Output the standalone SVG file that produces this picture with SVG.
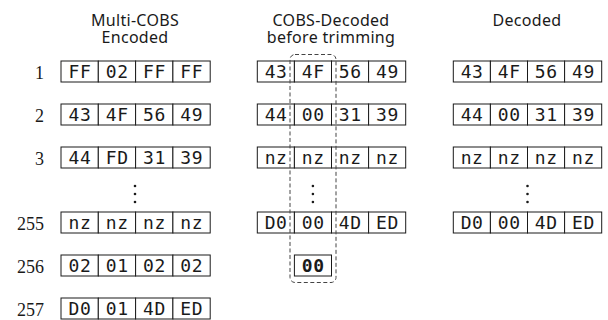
<svg xmlns="http://www.w3.org/2000/svg" width="608" height="320" viewBox="0 0 608 320">
  <style>
    .cell { fill: #ffffff; stroke: #1a1a1a; stroke-width: 1; }
    .byte { font-family: "DejaVu Sans Mono", monospace; font-size: 18px; letter-spacing: 0.6px; fill: #1a1a1a; text-anchor: middle; }
    .bold { font-weight: bold; }
    .title { font-family: "Noto Sans", "Open Sans", sans-serif; font-size: 16px; letter-spacing: 0.3px; fill: #1a1a1a; text-anchor: middle; }
    .idx { font-family: "Liberation Serif", serif; font-size: 18px; fill: #1a1a1a; text-anchor: end; }
    .dot { fill: #1a1a1a; }
    .frame { fill: none; stroke: #444444; stroke-width: 1; stroke-dasharray: 4 2.5; }
  </style>

  <!-- column headings -->
  <g id="headings">
    <text class="title"><tspan x="135" y="26">Multi-COBS</tspan><tspan x="135" y="42.5">Encoded</tspan></text>
    <text class="title"><tspan x="331" y="26">COBS-Decoded</tspan><tspan x="331" y="42.5">before trimming</tspan></text>
    <text class="title" x="527" y="26">Decoded</text>
  </g>

  <!-- block indices -->
  <g id="indices">
    <text class="idx" x="44" y="78.5">1</text>
    <text class="idx" x="44" y="121.5">2</text>
    <text class="idx" x="44" y="164.5">3</text>
    <text class="idx" x="44" y="229.5">255</text>
    <text class="idx" x="44" y="272.5">256</text>
    <text class="idx" x="44" y="315.5">257</text>
  </g>

  <!-- Multi-COBS encoded blocks -->
  <g id="encoded">
    <g id="enc-1" transform="translate(61,61)">
      <rect class="cell" x="0" y="0" width="37.3" height="21"/><rect class="cell" x="37.3" y="0" width="37.3" height="21"/><rect class="cell" x="74.6" y="0" width="37.3" height="21"/><rect class="cell" x="111.9" y="0" width="37.3" height="21"/>
      <text class="byte" x="18.9" y="16.8">FF</text><text class="byte" x="56.2" y="16.8">02</text><text class="byte" x="93.5" y="16.8">FF</text><text class="byte" x="130.8" y="16.8">FF</text>
    </g>
    <g id="enc-2" transform="translate(61,104)">
      <rect class="cell" x="0" y="0" width="37.3" height="21"/><rect class="cell" x="37.3" y="0" width="37.3" height="21"/><rect class="cell" x="74.6" y="0" width="37.3" height="21"/><rect class="cell" x="111.9" y="0" width="37.3" height="21"/>
      <text class="byte" x="18.9" y="16.8">43</text><text class="byte" x="56.2" y="16.8">4F</text><text class="byte" x="93.5" y="16.8">56</text><text class="byte" x="130.8" y="16.8">49</text>
    </g>
    <g id="enc-3" transform="translate(61,147)">
      <rect class="cell" x="0" y="0" width="37.3" height="21"/><rect class="cell" x="37.3" y="0" width="37.3" height="21"/><rect class="cell" x="74.6" y="0" width="37.3" height="21"/><rect class="cell" x="111.9" y="0" width="37.3" height="21"/>
      <text class="byte" x="18.9" y="16.8">44</text><text class="byte" x="56.2" y="16.8">FD</text><text class="byte" x="93.5" y="16.8">31</text><text class="byte" x="130.8" y="16.8">39</text>
    </g>
    <g id="enc-dots">
      <circle class="dot" cx="135" cy="186" r="1.3"/><circle class="dot" cx="135" cy="194" r="1.3"/><circle class="dot" cx="135" cy="202" r="1.3"/>
    </g>
    <g id="enc-255" transform="translate(61,212)">
      <rect class="cell" x="0" y="0" width="37.3" height="21"/><rect class="cell" x="37.3" y="0" width="37.3" height="21"/><rect class="cell" x="74.6" y="0" width="37.3" height="21"/><rect class="cell" x="111.9" y="0" width="37.3" height="21"/>
      <text class="byte" x="18.9" y="16.8">nz</text><text class="byte" x="56.2" y="16.8">nz</text><text class="byte" x="93.5" y="16.8">nz</text><text class="byte" x="130.8" y="16.8">nz</text>
    </g>
    <g id="enc-256" transform="translate(61,255)">
      <rect class="cell" x="0" y="0" width="37.3" height="21"/><rect class="cell" x="37.3" y="0" width="37.3" height="21"/><rect class="cell" x="74.6" y="0" width="37.3" height="21"/><rect class="cell" x="111.9" y="0" width="37.3" height="21"/>
      <text class="byte" x="18.9" y="16.8">02</text><text class="byte" x="56.2" y="16.8">01</text><text class="byte" x="93.5" y="16.8">02</text><text class="byte" x="130.8" y="16.8">02</text>
    </g>
    <g id="enc-257" transform="translate(61,298)">
      <rect class="cell" x="0" y="0" width="37.3" height="21"/><rect class="cell" x="37.3" y="0" width="37.3" height="21"/><rect class="cell" x="74.6" y="0" width="37.3" height="21"/><rect class="cell" x="111.9" y="0" width="37.3" height="21"/>
      <text class="byte" x="18.9" y="16.8">D0</text><text class="byte" x="56.2" y="16.8">01</text><text class="byte" x="93.5" y="16.8">4D</text><text class="byte" x="130.8" y="16.8">ED</text>
    </g>
  </g>

  <!-- COBS-decoded blocks before trimming -->
  <g id="untrimmed">
    <g id="dec-1" transform="translate(257.3,61)">
      <rect class="cell" x="0" y="0" width="37.1" height="21"/><rect class="cell" x="37.1" y="0" width="37.1" height="21"/><rect class="cell" x="74.2" y="0" width="37.1" height="21"/><rect class="cell" x="111.3" y="0" width="37.1" height="21"/>
      <text class="byte" x="18.8" y="16.8">43</text><text class="byte" x="55.9" y="16.8">4F</text><text class="byte" x="93" y="16.8">56</text><text class="byte" x="130.1" y="16.8">49</text>
    </g>
    <g id="dec-2" transform="translate(257.3,104)">
      <rect class="cell" x="0" y="0" width="37.1" height="21"/><rect class="cell" x="37.1" y="0" width="37.1" height="21"/><rect class="cell" x="74.2" y="0" width="37.1" height="21"/><rect class="cell" x="111.3" y="0" width="37.1" height="21"/>
      <text class="byte" x="18.8" y="16.8">44</text><text class="byte" x="55.9" y="16.8">00</text><text class="byte" x="93" y="16.8">31</text><text class="byte" x="130.1" y="16.8">39</text>
    </g>
    <g id="dec-3" transform="translate(257.3,147)">
      <rect class="cell" x="0" y="0" width="37.1" height="21"/><rect class="cell" x="37.1" y="0" width="37.1" height="21"/><rect class="cell" x="74.2" y="0" width="37.1" height="21"/><rect class="cell" x="111.3" y="0" width="37.1" height="21"/>
      <text class="byte" x="18.8" y="16.8">nz</text><text class="byte" x="55.9" y="16.8">nz</text><text class="byte" x="93" y="16.8">nz</text><text class="byte" x="130.1" y="16.8">nz</text>
    </g>
    <g id="dec-dots">
      <circle class="dot" cx="312.9" cy="186" r="1.3"/><circle class="dot" cx="312.9" cy="194" r="1.3"/><circle class="dot" cx="312.9" cy="202" r="1.3"/>
    </g>
    <g id="dec-255" transform="translate(257.3,212)">
      <rect class="cell" x="0" y="0" width="37.1" height="21"/><rect class="cell" x="37.1" y="0" width="37.1" height="21"/><rect class="cell" x="74.2" y="0" width="37.1" height="21"/><rect class="cell" x="111.3" y="0" width="37.1" height="21"/>
      <text class="byte" x="18.8" y="16.8">D0</text><text class="byte" x="55.9" y="16.8">00</text><text class="byte" x="93" y="16.8">4D</text><text class="byte" x="130.1" y="16.8">ED</text>
    </g>
    <g id="dec-256" transform="translate(294.4,255)">
      <rect class="cell" x="0" y="0" width="37.1" height="21"/>
      <text class="byte bold" x="18.8" y="16.8">00</text>
    </g>
    <!-- dashed frame around the second byte column -->
    <rect id="trim-frame" class="frame" x="290" y="54.5" width="46" height="228" rx="5" ry="5"/>
  </g>

  <!-- trimmed output blocks -->
  <g id="decoded">
    <g id="out-1" transform="translate(453.3,61)">
      <rect class="cell" x="0" y="0" width="37.1" height="21"/><rect class="cell" x="37.1" y="0" width="37.1" height="21"/><rect class="cell" x="74.2" y="0" width="37.1" height="21"/><rect class="cell" x="111.3" y="0" width="37.1" height="21"/>
      <text class="byte" x="18.8" y="16.8">43</text><text class="byte" x="55.9" y="16.8">4F</text><text class="byte" x="93" y="16.8">56</text><text class="byte" x="130.1" y="16.8">49</text>
    </g>
    <g id="out-2" transform="translate(453.3,104)">
      <rect class="cell" x="0" y="0" width="37.1" height="21"/><rect class="cell" x="37.1" y="0" width="37.1" height="21"/><rect class="cell" x="74.2" y="0" width="37.1" height="21"/><rect class="cell" x="111.3" y="0" width="37.1" height="21"/>
      <text class="byte" x="18.8" y="16.8">44</text><text class="byte" x="55.9" y="16.8">00</text><text class="byte" x="93" y="16.8">31</text><text class="byte" x="130.1" y="16.8">39</text>
    </g>
    <g id="out-3" transform="translate(453.3,147)">
      <rect class="cell" x="0" y="0" width="37.1" height="21"/><rect class="cell" x="37.1" y="0" width="37.1" height="21"/><rect class="cell" x="74.2" y="0" width="37.1" height="21"/><rect class="cell" x="111.3" y="0" width="37.1" height="21"/>
      <text class="byte" x="18.8" y="16.8">nz</text><text class="byte" x="55.9" y="16.8">nz</text><text class="byte" x="93" y="16.8">nz</text><text class="byte" x="130.1" y="16.8">nz</text>
    </g>
    <g id="out-dots">
      <circle class="dot" cx="527.5" cy="186" r="1.3"/><circle class="dot" cx="527.5" cy="194" r="1.3"/><circle class="dot" cx="527.5" cy="202" r="1.3"/>
    </g>
    <g id="out-255" transform="translate(453.3,212)">
      <rect class="cell" x="0" y="0" width="37.1" height="21"/><rect class="cell" x="37.1" y="0" width="37.1" height="21"/><rect class="cell" x="74.2" y="0" width="37.1" height="21"/><rect class="cell" x="111.3" y="0" width="37.1" height="21"/>
      <text class="byte" x="18.8" y="16.8">D0</text><text class="byte" x="55.9" y="16.8">00</text><text class="byte" x="93" y="16.8">4D</text><text class="byte" x="130.1" y="16.8">ED</text>
    </g>
  </g>
</svg>
